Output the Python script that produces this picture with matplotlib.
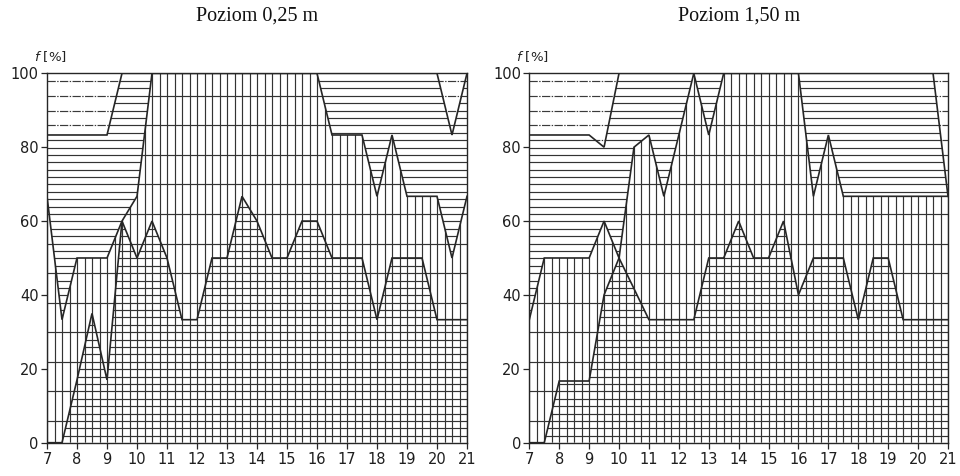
import numpy as np
import matplotlib
matplotlib.use("Agg")
import matplotlib.pyplot as plt
from matplotlib.collections import LineCollection

# Time of day [h], half-hour steps
hours = [7, 7.5, 8, 8.5, 9, 9.5, 10, 10.5, 11, 11.5, 12, 12.5, 13, 13.5, 14,
         14.5, 15, 15.5, 16, 16.5, 17, 17.5, 18, 18.5, 19, 19.5, 20, 20.5, 21]

# Cumulative frequency f [%]: upper edge of each stacked band
# Poziom 0,25 m
low_025 = [0, 0, 17, 35, 17, 60, 50, 60, 50, 33.3, 33.3, 50, 50, 66.7, 60,
           50, 50, 60, 60, 50, 50, 50, 33.3, 50, 50, 50, 33.3, 33.3, 33.3]
mid_025 = [66.7, 33.3, 50, 50, 50, 60, 66.7, 100, 100, 100, 100, 100, 100, 100, 100,
           100, 100, 100, 100, 83.3, 83.3, 83.3, 66.7, 83.3, 66.7, 66.7, 66.7, 50, 66.7]
high_025 = [83.3, 83.3, 83.3, 83.3, 83.3, 100, 100, 100, 100, 100, 100, 100, 100, 100, 100,
            100, 100, 100, 100, 100, 100, 100, 100, 100, 100, 100, 100, 83.3, 100]

# Poziom 1,50 m
low_150 = [0, 0, 16.7, 16.7, 16.7, 40, 50, 41.7, 33.3, 33.3, 33.3, 33.3, 50, 50, 60,
           50, 50, 60, 40, 50, 50, 50, 33.3, 50, 50, 33.3, 33.3, 33.3, 33.3]
mid_150 = [33.3, 50, 50, 50, 50, 60, 50, 80, 83.3, 66.7, 83.3, 100, 83.3, 100, 100,
           100, 100, 100, 100, 66.7, 83.3, 66.7, 66.7, 66.7, 66.7, 66.7, 66.7, 66.7, 66.7]
high_150 = [83.3, 83.3, 83.3, 83.3, 83.3, 80, 100, 100, 100, 100, 100, 100, 100, 100, 100,
            100, 100, 100, 100, 100, 100, 100, 100, 100, 100, 100, 100, 100, 66.7]

titles = ["Poziom 0,25 m", "Poziom 1,50 m"]
xticks = list(range(7, 22))
yticks = [0, 20, 40, 60, 80, 100]

INK = "#262626"
HATCH = "#333333"

# hatch geometry (data units)
VSTEP = 0.25          # vertical hatch spacing [h]
HSTEP = 2.0           # horizontal hatch spacing [%]
HOFF = 5.9            # offset of the horizontal hatch family [%]


def band_path(ax, x, lo, hi):
    poly = ax.fill_between(x, lo, hi, facecolor="none", edgecolor="none", linewidth=0)
    return poly.get_paths()[0]


def hatch_lines(ax, segs, path, lw=0.85, ls="solid", color=HATCH):
    lc = LineCollection(segs, colors=color, linewidths=lw, linestyles=ls)
    ax.add_collection(lc)
    lc.set_clip_path(path, ax.transData)
    return lc


def draw_panel(ax, low, mid, high):
    x = np.asarray(hours, float)
    low = np.asarray(low, float)
    mid = np.asarray(mid, float)
    high = np.asarray(high, float)
    zero = np.zeros_like(x)
    top = np.full_like(x, 100.0)

    p_a = band_path(ax, x, zero, low)     # grid hatch
    p_ab = band_path(ax, x, zero, mid)    # vertical hatch extends over both
    p_b = band_path(ax, x, low, mid)
    p_c = band_path(ax, x, mid, high)     # horizontal hatch
    p_d = band_path(ax, x, high, top)     # dashed horizontal hatch

    vx = np.arange(7, 21 + 1e-9, VSTEP)
    vsegs = [[(v, 0), (v, 100)] for v in vx]
    hy = HOFF + HSTEP * np.arange(-2, 48)
    hy = hy[(hy > 0.5) & (hy < 99.5)]
    k = np.round((hy - HOFF) / HSTEP).astype(int)
    hsegs_all = [[(7, y), (21, y)] for y in hy]
    hsegs_bg = [[(7, y), (21, y)] for y, kk in zip(hy, k) if kk % 4 == 0]
    hsegs_even = [[(7, y), (21, y)] for y, kk in zip(hy, k) if kk % 2 == 0]

    hatch_lines(ax, vsegs, p_ab)
    hatch_lines(ax, hsegs_all, p_a)
    hatch_lines(ax, hsegs_all, p_c)
    hatch_lines(ax, hsegs_bg, p_b)
    hatch_lines(ax, hsegs_even, p_d, lw=0.85, ls=(0, (7, 1.2, 1.2, 1.2)), color="#3a3a3a")

    for curve in (low, mid, high):
        ax.plot(x, curve, color=INK, lw=1.2, solid_joinstyle="miter", zorder=3)

    ax.set_xlim(7, 21)
    ax.set_ylim(0, 100)
    ax.set_xticks(xticks)
    ax.set_yticks(yticks)
    ax.tick_params(direction="out", length=4, width=0.9, color=INK,
                   labelsize=10.5, labelcolor="#1e1e1e")
    ax.tick_params(axis="x", pad=3)
    ax.tick_params(axis="y", pad=2)
    for s in ax.spines.values():
        s.set_color(INK)
        s.set_linewidth(1.0)


fig = plt.figure(figsize=(9.6, 4.76), dpi=100)
H = 476.0
W = 960.0
ax_l = fig.add_axes([47 / W, (H - 442.7) / H, 420 / W, 369.4 / H])
ax_r = fig.add_axes([529.3 / W, (H - 442.7) / H, 418.7 / W, 369.4 / H])

draw_panel(ax_l, low_025, mid_025, high_025)
draw_panel(ax_r, low_150, mid_150, high_150)

for ax, cx, title in ((ax_l, 257, titles[0]), (ax_r, 738.7, titles[1])):
    fig.text(cx / W, 1 - 16 / H, title, ha="center", va="center",
             family="Liberation Serif", fontsize=14.5, color="#111111")
    left_px = ax.get_position().x0 * W
    fig.text((left_px - 13) / W, 1 - 57 / H, "$f$ [%]", ha="left", va="center",
             fontsize=9.5, color="#222222")

fig.savefig("out.png", dpi=100, facecolor="white")
